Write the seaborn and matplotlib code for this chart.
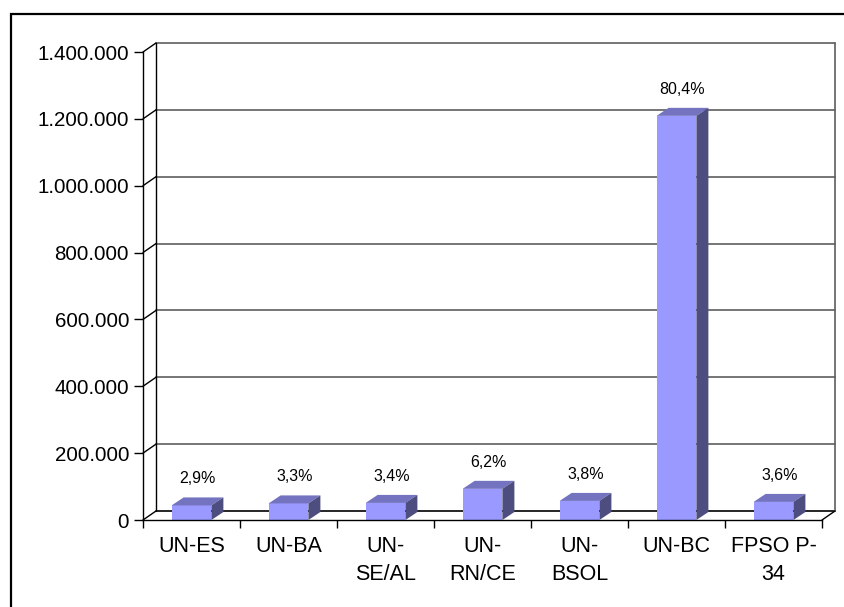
import matplotlib
matplotlib.use('Agg')
import matplotlib.pyplot as plt
import seaborn as sns
import pandas as pd
import numpy as np
from matplotlib.patches import Polygon, Rectangle

# ---- data ----
categories = ["UN-ES", "UN-BA", "UN-SE/AL", "UN-RN/CE", "UN-BSOL", "UN-BC", "FPSO P-34"]
tick_labels = ["UN-ES", "UN-BA", "UN-\nSE/AL", "UN-\nRN/CE", "UN-\nBSOL", "UN-BC", "FPSO P-\n34"]
values = [43600, 49600, 51100, 93200, 57100, 1209000, 54100]
pct_labels = ["2,9%", "3,3%", "3,4%", "6,2%", "3,8%", "80,4%", "3,6%"]
y_ticks = [0, 200000, 400000, 600000, 800000, 1000000, 1200000, 1400000]
y_tick_labels = ["0", "200.000", "400.000", "600.000", "800.000", "1.000.000", "1.200.000", "1.400.000"]

sns.set_theme(style='white')
plt.rcParams['font.family'] = ['Liberation Sans', 'DejaVu Sans']

W, H = 845, 607
fig = plt.figure(figsize=(W / 100, H / 100), dpi=100)
fig.patch.set_facecolor('white')
L, R, T, B = 143, 822, 52, 520
ax = fig.add_axes([L / W, 1 - B / H, (R - L) / W, (B - T) / H])

df = pd.DataFrame({'cat': categories, 'val': values})
sns.barplot(data=df, x='cat', y='val', order=categories, color='#9999FF',
            saturation=1, width=0.41, linewidth=0, ax=ax)

ncat = len(categories)
ymax = y_ticks[-1]
ax.set_xlim(-0.5, ncat - 0.5)
ax.set_ylim(0, ymax)

sx = (R - L) / ncat          # px per x unit
sy = (B - T) / ymax          # px per y unit
wdx, wdy = 13 / sx, 9 / sy   # wall depth
bdx, bdy = 12 / sx, 8 / sy   # bar depth

x0, x1 = -0.5, ncat - 0.5
# back wall gridlines + left side diagonals
for v in y_ticks:
    ax.plot([x0 + wdx, x1 + wdx], [v + wdy, v + wdy],
            color='black' if v == 0 else '#5e5e5e', lw=1.2, zorder=1, clip_on=False)
    ax.plot([x0, x0 + wdx], [v, v + wdy], color='black', lw=1, zorder=1, clip_on=False)
ax.plot([x0 + wdx, x0 + wdx], [wdy, ymax + wdy], color='black', lw=1, zorder=1, clip_on=False)
ax.plot([x1 + wdx, x1 + wdx], [wdy, ymax + wdy], color='#5e5e5e', lw=1.2, zorder=1, clip_on=False)
ax.plot([x1, x1 + wdx], [0, wdy], color='black', lw=1, zorder=1, clip_on=False)

# 3D bar faces
bars = list(ax.patches)
for i, p in enumerate(bars):
    p.set_zorder(3)
    x = p.get_x(); w = p.get_width(); h = p.get_height()
    top = Polygon([(x, h), (x + w, h), (x + w + bdx, h + bdy), (x + bdx, h + bdy)],
                  closed=True, facecolor='#7373BF', edgecolor='none', zorder=3, clip_on=False)
    side = Polygon([(x + w, 0), (x + w, h), (x + w + bdx, h + bdy), (x + w + bdx, bdy)],
                   closed=True, facecolor='#4D4D80', edgecolor='none', zorder=3, clip_on=False)
    ax.add_patch(top)
    ax.add_patch(side)
    ax.text(x + w / 2 + bdx / 2, h + bdy + 11 / sy, pct_labels[i], ha='center', va='bottom',
            fontsize=11.5, color='black', zorder=4, clip_on=False)

# spines
for s in ['top', 'right']:
    ax.spines[s].set_visible(False)
for s in ['left', 'bottom']:
    ax.spines[s].set_visible(True)
    ax.spines[s].set_color('black')
    ax.spines[s].set_linewidth(1)
    ax.spines[s].set_zorder(5)
ax.patch.set_alpha(0)

ax.set_yticks(y_ticks, y_tick_labels)
ax.tick_params(axis='y', left=True, length=6.5, width=1, color='black',
               labelsize=14.8, pad=3.5, direction='out', labelcolor='black')
ax.set_xticks(np.arange(-0.5, ncat, 1), [""] * (ncat + 1))
ax.set_xticks(np.arange(ncat), tick_labels, minor=True)
ax.tick_params(axis='x', which='major', bottom=True, length=5.8, width=1, color='black', direction='out')
ax.tick_params(axis='x', which='minor', bottom=True, length=0, labelsize=15.5, pad=11.5, labelcolor='black')
for lbl in ax.get_xticklabels(minor=True):
    lbl.set_linespacing(1.45)
ax.set_xlabel('')
ax.set_ylabel('')
ax.grid(False)

# outer frame
fig.add_artist(Rectangle((11 / W, -0.1), 2, (1 - 13.5 / H) + 0.1, transform=fig.transFigure,
                         fill=False, edgecolor='black', lw=1.6))

fig.savefig('out.png', dpi=100)
